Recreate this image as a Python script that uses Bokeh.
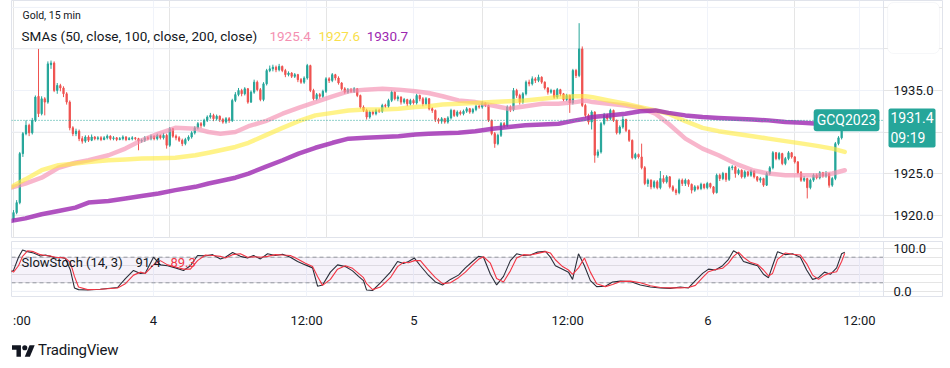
from bokeh.plotting import figure
from bokeh.models import (ColumnDataSource, Range1d, FixedTicker, Span, BoxAnnotation,
                          Label, Grid, Div)
from bokeh.core.properties import value
from bokeh.layouts import column
from bokeh.embed import file_html
from bokeh.resources import INLINE

# ---------------- data (15-min bars) ----------------
open_ = [
    1919.5, 1920.3, 1921.5, 1927.4, 1929.8, 1930.8, 1929.9, 1931.4, 1934.3, 1932.2,
    1934.0, 1933.6, 1938.1, 1938.3, 1935.0, 1935.6, 1935.3, 1934.6, 1933.6, 1930.5,
    1929.8, 1930.1, 1929.2, 1928.9, 1929.4, 1929.0, 1929.4, 1929.2, 1929.3, 1929.1,
    1929.3, 1929.5, 1929.2, 1929.3, 1929.1, 1929.2, 1929.4, 1929.1, 1929.2, 1929.3,
    1929.2, 1928.9, 1929.0, 1929.3, 1929.2, 1929.5, 1929.2, 1929.6, 1929.3, 1929.6,
    1928.4, 1930.4, 1929.5, 1929.3, 1929.0, 1928.6, 1929.1, 1929.4, 1929.9, 1930.5,
    1931.0, 1930.8, 1931.4, 1931.8, 1932.0, 1931.6, 1931.9, 1931.5, 1931.2, 1931.6,
    1931.4, 1933.8, 1934.5, 1935.0, 1934.6, 1935.2, 1933.6, 1934.8, 1936.0, 1935.1,
    1933.9, 1935.8, 1937.4, 1937.6, 1937.8, 1937.5, 1937.9, 1937.4, 1936.9, 1937.1,
    1936.7, 1936.9, 1936.3, 1936.0, 1936.5, 1938.0, 1935.0, 1934.0, 1934.5, 1934.3,
    1934.9, 1936.4, 1936.2, 1936.9, 1936.5, 1935.9, 1935.2, 1934.8, 1935.1, 1934.9,
    1935.2, 1934.4, 1933.0, 1932.6, 1931.8, 1932.4, 1932.2, 1932.6, 1932.5, 1933.2,
    1933.1, 1933.8, 1934.8, 1934.0, 1934.2, 1933.6, 1933.9, 1933.4, 1933.8, 1933.5,
    1934.4, 1934.0, 1933.4, 1934.0, 1932.8, 1932.6, 1931.5, 1931.3, 1931.6, 1931.2,
    1931.7, 1932.6, 1932.0, 1932.4, 1932.2, 1932.5, 1932.8, 1932.4, 1932.7, 1933.1,
    1933.0, 1933.5, 1933.2, 1931.4, 1929.8, 1928.6, 1929.6, 1931.0, 1930.8, 1933.0,
    1932.7, 1935.0, 1934.4, 1933.6, 1934.6, 1936.0, 1935.8, 1936.4, 1936.2, 1936.6,
    1936.0, 1935.3, 1934.8, 1935.0, 1934.2, 1935.1, 1934.6, 1933.9, 1934.4, 1933.5,
    1937.4, 1936.8, 1940.0, 1933.2, 1932.0, 1931.2, 1932.4, 1927.2, 1927.6, 1931.0,
    1932.0, 1931.6, 1932.6, 1931.4, 1929.9, 1930.6, 1931.5, 1930.2, 1929.0, 1926.9,
    1927.3, 1927.0, 1925.7, 1923.8, 1924.2, 1923.4, 1924.0, 1923.3, 1924.4, 1924.0,
    1924.6, 1923.4, 1923.0, 1922.7, 1924.2, 1923.8, 1924.2, 1923.7, 1923.0, 1923.4,
    1923.2, 1923.7, 1923.3, 1923.8, 1923.4, 1922.7, 1924.8, 1924.4, 1925.0, 1924.3,
    1925.7, 1925.8, 1925.0, 1925.4, 1924.6, 1925.2, 1924.8, 1925.3, 1924.6, 1924.2,
    1924.4, 1923.6, 1925.0, 1925.7, 1927.5, 1926.8, 1927.4, 1926.2, 1926.8, 1927.5,
    1927.0, 1926.4, 1925.1, 1924.2, 1924.4, 1923.3, 1924.2, 1924.8, 1924.5, 1925.1,
    1924.7, 1925.0, 1923.6, 1924.4, 1928.6, 1929.3, 1930.4,
]
high = [
    1920.6, 1921.8, 1927.6, 1930.0, 1931.4, 1931.0, 1931.7, 1934.4, 1940.0, 1934.3,
    1934.2, 1938.5, 1938.6, 1938.5, 1935.9, 1935.8, 1935.5, 1934.8, 1933.8, 1930.7,
    1930.4, 1930.3, 1929.5, 1929.6, 1929.6, 1929.7, 1929.5, 1929.5, 1929.5, 1929.5,
    1929.7, 1929.6, 1929.5, 1929.4, 1929.4, 1929.6, 1929.5, 1929.4, 1929.5, 1929.4,
    1929.3, 1929.2, 1929.5, 1929.5, 1929.7, 1929.6, 1929.8, 1929.7, 1929.9, 1929.8,
    1930.6, 1930.5, 1929.7, 1929.5, 1929.2, 1929.3, 1929.6, 1930.1, 1930.7, 1931.2,
    1931.2, 1931.6, 1932.0, 1932.3, 1932.2, 1932.1, 1932.0, 1931.7, 1931.8, 1931.8,
    1934.0, 1934.8, 1935.3, 1935.2, 1935.4, 1935.3, 1935.0, 1936.3, 1936.2, 1935.3,
    1936.0, 1937.6, 1938.0, 1938.1, 1938.0, 1938.2, 1938.0, 1937.6, 1937.3, 1937.2,
    1937.1, 1937.0, 1936.5, 1936.7, 1938.2, 1938.1, 1935.2, 1934.7, 1934.7, 1935.1,
    1936.6, 1936.6, 1937.1, 1937.0, 1936.7, 1936.0, 1935.4, 1935.3, 1935.3, 1935.4,
    1935.3, 1934.5, 1933.2, 1932.8, 1932.6, 1932.6, 1932.8, 1932.8, 1933.4, 1933.4,
    1934.0, 1935.0, 1934.9, 1934.4, 1934.3, 1934.1, 1934.0, 1934.0, 1934.0, 1934.6,
    1934.5, 1934.2, 1934.2, 1934.1, 1933.0, 1932.7, 1931.7, 1931.8, 1931.7, 1931.9,
    1932.8, 1932.7, 1932.6, 1932.6, 1932.7, 1933.0, 1932.9, 1932.9, 1933.3, 1933.3,
    1933.7, 1933.6, 1933.3, 1931.5, 1930.0, 1929.8, 1931.2, 1931.2, 1933.2, 1933.2,
    1935.3, 1935.2, 1934.6, 1934.8, 1936.2, 1936.3, 1936.7, 1936.6, 1936.9, 1936.7,
    1936.1, 1935.4, 1935.2, 1935.1, 1935.3, 1935.2, 1934.7, 1934.6, 1934.5, 1937.6,
    1937.6, 1943.1, 1940.3, 1933.4, 1932.2, 1932.6, 1932.5, 1927.9, 1931.2, 1932.3,
    1932.2, 1932.8, 1932.7, 1931.5, 1930.8, 1931.9, 1931.6, 1930.3, 1929.1, 1927.5,
    1927.4, 1928.6, 1925.9, 1924.4, 1924.3, 1924.2, 1924.2, 1925.3, 1924.8, 1924.8,
    1924.7, 1923.6, 1923.2, 1924.4, 1924.4, 1924.4, 1924.3, 1923.8, 1923.6, 1923.6,
    1923.9, 1923.8, 1924.0, 1923.9, 1923.5, 1925.0, 1925.0, 1925.2, 1925.1, 1925.9,
    1926.0, 1925.9, 1925.6, 1925.5, 1925.4, 1925.3, 1925.5, 1925.4, 1924.7, 1924.6,
    1924.5, 1925.2, 1925.9, 1927.7, 1927.6, 1927.6, 1927.5, 1927.0, 1927.7, 1927.6,
    1927.1, 1926.5, 1925.3, 1924.7, 1924.5, 1924.4, 1925.0, 1925.0, 1925.3, 1925.2,
    1925.3, 1925.1, 1924.6, 1928.8, 1929.5, 1930.6, 1931.6,
]
low = [
    1919.2, 1920.1, 1921.3, 1927.0, 1929.6, 1929.5, 1929.7, 1931.2, 1931.8, 1932.0,
    1932.0, 1933.4, 1937.6, 1934.8, 1934.6, 1934.9, 1934.2, 1933.3, 1930.2, 1929.5,
    1929.5, 1928.9, 1928.6, 1928.7, 1928.8, 1928.9, 1929.0, 1929.0, 1928.9, 1929.0,
    1929.1, 1929.0, 1929.0, 1928.9, 1929.0, 1929.0, 1928.9, 1929.0, 1929.0, 1929.0,
    1927.8, 1928.7, 1928.8, 1929.0, 1929.0, 1929.0, 1929.0, 1929.1, 1929.1, 1928.0,
    1928.2, 1929.3, 1929.0, 1928.8, 1928.3, 1928.4, 1928.9, 1929.2, 1929.7, 1930.3,
    1930.5, 1930.6, 1931.2, 1931.6, 1931.3, 1931.4, 1931.2, 1931.0, 1931.0, 1931.1,
    1931.2, 1933.6, 1934.3, 1934.3, 1934.4, 1933.4, 1933.5, 1934.6, 1934.9, 1933.7,
    1933.7, 1935.6, 1937.2, 1937.3, 1937.2, 1937.3, 1937.2, 1936.6, 1936.7, 1936.5,
    1936.5, 1936.0, 1935.8, 1935.8, 1936.3, 1934.8, 1933.8, 1933.8, 1934.0, 1934.1,
    1934.7, 1935.9, 1936.0, 1936.2, 1935.7, 1935.0, 1934.6, 1934.6, 1934.7, 1934.7,
    1934.2, 1932.8, 1932.4, 1931.5, 1931.6, 1932.0, 1932.0, 1932.3, 1932.3, 1932.9,
    1932.9, 1933.6, 1933.8, 1933.7, 1933.3, 1933.4, 1933.1, 1933.2, 1933.3, 1933.3,
    1933.7, 1933.1, 1933.2, 1932.6, 1932.3, 1931.2, 1931.0, 1931.0, 1931.0, 1931.0,
    1931.5, 1931.8, 1931.8, 1932.0, 1932.0, 1932.3, 1932.2, 1932.2, 1932.5, 1932.8,
    1932.8, 1933.0, 1931.2, 1929.6, 1928.1, 1928.4, 1929.4, 1930.5, 1930.6, 1932.4,
    1932.5, 1934.1, 1933.3, 1933.4, 1934.4, 1935.5, 1935.6, 1935.9, 1936.0, 1935.8,
    1935.1, 1934.5, 1934.6, 1934.0, 1934.0, 1934.3, 1933.7, 1933.7, 1932.3, 1933.3,
    1936.5, 1936.6, 1933.0, 1931.7, 1930.9, 1930.3, 1926.3, 1926.9, 1927.4, 1930.8,
    1931.3, 1931.4, 1931.2, 1929.7, 1929.7, 1930.4, 1930.0, 1928.8, 1926.7, 1926.7,
    1926.8, 1925.5, 1923.6, 1923.4, 1923.1, 1923.2, 1923.1, 1923.1, 1923.8, 1923.8,
    1923.2, 1922.8, 1922.4, 1922.5, 1923.5, 1923.5, 1923.4, 1922.6, 1922.8, 1923.0,
    1923.0, 1923.1, 1923.1, 1923.2, 1922.5, 1922.6, 1924.1, 1924.2, 1924.0, 1924.1,
    1925.4, 1924.5, 1924.8, 1924.4, 1924.4, 1924.6, 1924.6, 1924.4, 1924.0, 1923.9,
    1923.4, 1923.5, 1924.8, 1925.5, 1926.6, 1926.6, 1926.0, 1926.0, 1926.6, 1926.8,
    1926.2, 1924.9, 1924.0, 1924.0, 1922.0, 1923.1, 1924.0, 1924.3, 1924.3, 1924.5,
    1924.5, 1923.3, 1923.4, 1924.2, 1928.4, 1929.1, 1930.2,
]
close = [
    1920.3, 1921.5, 1927.4, 1929.8, 1930.8, 1929.9, 1931.4, 1934.2, 1932.2, 1934.0,
    1933.6, 1938.2, 1938.3, 1935.0, 1935.6, 1935.3, 1934.6, 1933.6, 1930.5, 1929.8,
    1930.1, 1929.2, 1928.9, 1929.4, 1929.0, 1929.4, 1929.2, 1929.3, 1929.1, 1929.3,
    1929.5, 1929.2, 1929.3, 1929.1, 1929.2, 1929.4, 1929.1, 1929.2, 1929.3, 1929.2,
    1928.9, 1929.0, 1929.3, 1929.2, 1929.5, 1929.2, 1929.6, 1929.3, 1929.6, 1928.4,
    1930.4, 1929.5, 1929.3, 1929.0, 1928.6, 1929.1, 1929.4, 1929.9, 1930.5, 1931.0,
    1930.8, 1931.4, 1931.8, 1932.0, 1931.6, 1931.9, 1931.5, 1931.2, 1931.6, 1931.4,
    1933.8, 1934.5, 1935.0, 1934.6, 1935.2, 1933.6, 1934.8, 1936.0, 1935.1, 1933.9,
    1935.8, 1937.4, 1937.6, 1937.8, 1937.5, 1937.9, 1937.4, 1936.9, 1937.1, 1936.7,
    1936.9, 1936.3, 1936.0, 1936.5, 1938.0, 1935.0, 1934.0, 1934.5, 1934.3, 1934.9,
    1936.4, 1936.2, 1936.9, 1936.5, 1935.9, 1935.2, 1934.8, 1935.1, 1934.9, 1935.2,
    1934.4, 1933.0, 1932.6, 1931.8, 1932.4, 1932.2, 1932.6, 1932.5, 1933.2, 1933.1,
    1933.8, 1934.8, 1934.0, 1934.2, 1933.6, 1933.9, 1933.4, 1933.8, 1933.5, 1934.4,
    1934.0, 1933.4, 1934.0, 1932.8, 1932.6, 1931.5, 1931.3, 1931.6, 1931.2, 1931.7,
    1932.6, 1932.0, 1932.4, 1932.2, 1932.5, 1932.8, 1932.4, 1932.7, 1933.1, 1933.0,
    1933.5, 1933.2, 1931.4, 1929.8, 1928.6, 1929.6, 1931.0, 1930.8, 1933.0, 1932.7,
    1935.0, 1934.4, 1933.6, 1934.6, 1936.0, 1935.8, 1936.4, 1936.2, 1936.6, 1936.0,
    1935.3, 1934.8, 1935.0, 1934.2, 1935.1, 1934.6, 1933.9, 1934.4, 1933.5, 1937.4,
    1936.8, 1940.0, 1933.2, 1932.0, 1931.2, 1932.4, 1927.2, 1927.6, 1931.0, 1932.0,
    1931.6, 1932.6, 1931.4, 1929.9, 1930.6, 1931.5, 1930.2, 1929.0, 1926.9, 1927.3,
    1927.0, 1925.7, 1923.8, 1924.2, 1923.4, 1924.0, 1923.3, 1924.4, 1924.0, 1924.6,
    1923.4, 1923.0, 1922.7, 1924.2, 1923.8, 1924.2, 1923.7, 1923.0, 1923.4, 1923.2,
    1923.7, 1923.3, 1923.8, 1923.4, 1922.7, 1924.8, 1924.4, 1925.0, 1924.3, 1925.7,
    1925.8, 1925.0, 1925.4, 1924.6, 1925.2, 1924.8, 1925.3, 1924.6, 1924.2, 1924.4,
    1923.6, 1925.0, 1925.7, 1927.5, 1926.8, 1927.4, 1926.2, 1926.8, 1927.5, 1927.0,
    1926.4, 1925.1, 1924.2, 1924.4, 1923.3, 1924.2, 1924.8, 1924.5, 1925.1, 1924.7,
    1925.0, 1923.6, 1924.4, 1928.6, 1929.3, 1930.4, 1931.4,
]

# moving averages, sampled along the bar axis
sma_x = [-0.7, 3.8, 9.0, 14.4, 19.8, 24.0, 30.4, 35.8, 41.0, 46.4,
         51.8, 58.2, 62.4, 66.2, 71.0, 75.2, 80.6, 86.1, 91.2, 96.6,
         102.1, 107.2, 112.6, 118.1, 123.2, 128.6, 132.8, 137.3, 142.4, 147.8,
         153.3, 158.4, 163.8, 169.3, 174.4, 179.8, 183.0, 185.3, 190.4, 195.8,
         200.6, 205.4, 209.6, 215.0, 220.5, 225.6, 231.0, 236.5, 241.6, 247.0,
         252.5, 257.6, 262.1, 266.0]
sma50 = [1923.3, 1923.8, 1924.5, 1925.7, 1926.3, 1926.6, 1927.2, 1928.0, 1929.0, 1929.8,
         1930.5, 1930.4, 1930.0, 1929.8, 1930.0, 1930.7, 1931.3, 1932.2, 1932.9, 1933.6,
         1934.3, 1934.9, 1935.1, 1935.2, 1935.1, 1934.9, 1934.7, 1934.3, 1933.8, 1933.6,
         1933.2, 1932.8, 1933.1, 1933.4, 1933.4, 1933.6, 1933.8, 1933.6, 1933.4, 1933.2,
         1932.9, 1932.2, 1931.0, 1929.2, 1928.0, 1927.2, 1926.2, 1925.4, 1925.0, 1924.8,
         1924.8, 1924.8, 1925.0, 1925.4]
sma100 = [1923.4, 1924.3, 1925.4, 1926.0, 1926.2, 1926.4, 1926.6, 1926.7, 1926.8, 1926.85,
          1926.9, 1927.2, 1927.5, 1927.8, 1928.2, 1928.7, 1929.6, 1930.5, 1931.3, 1932.0,
          1932.3, 1932.6, 1932.7, 1932.7, 1932.8, 1933.0, 1933.1, 1933.3, 1933.4, 1933.5,
          1933.6, 1933.7, 1933.8, 1934.0, 1934.2, 1934.3, 1934.3, 1934.2, 1933.8, 1933.4,
          1933.0, 1932.6, 1932.2, 1931.3, 1930.5, 1930.1, 1929.8, 1929.5, 1929.2, 1928.9,
          1928.6, 1928.3, 1928.0, 1927.6]
sma200 = [1919.3, 1919.6, 1920.1, 1920.5, 1920.9, 1921.5, 1921.7, 1922.0, 1922.3, 1922.6,
          1923.0, 1923.4, 1923.8, 1924.1, 1924.5, 1925.0, 1925.8, 1926.6, 1927.4, 1928.1,
          1928.7, 1929.2, 1929.3, 1929.4, 1929.5, 1929.7, 1929.8, 1929.85, 1929.9, 1930.1,
          1930.4, 1930.6, 1930.8, 1930.9, 1931.0, 1931.4, 1931.6, 1931.8, 1932.0, 1932.2,
          1932.5, 1932.6, 1932.3, 1932.0, 1931.8, 1931.7, 1931.6, 1931.5, 1931.4, 1931.2,
          1931.1, 1931.0, 1930.8, 1930.7]

# slow stochastic (14, 3)
stoch_x = [-1.0, 0.0, 1.6, 2.9, 4.5, 6.4, 8.6, 10.2, 11.8, 13.4,
           15.0, 16.6, 18.2, 19.5, 20.8, 23.7, 27.8, 33.3, 35.8, 38.4,
           40.6, 42.2, 44.8, 47.0, 49.3, 51.8, 54.4, 56.6, 58.9, 61.4,
           63.7, 66.2, 67.8, 70.1, 72.6, 74.9, 76.8, 79.0, 81.3, 83.8,
           86.1, 88.6, 90.9, 93.4, 95.7, 97.3, 98.9, 101.4, 103.7, 106.2,
           108.5, 110.4, 112.0, 113.0, 114.9, 117.4, 120.6, 122.9, 124.8, 126.4,
           128.3, 130.2, 132.5, 135.0, 137.3, 139.8, 142.4, 144.6, 146.9, 148.8,
           150.4, 152.6, 154.6, 156.8, 159.0, 161.0, 163.2, 165.4, 167.7, 170.2,
           171.8, 173.4, 175.7, 177.6, 178.9, 180.8, 182.7, 184.6, 186.6, 189.4,
           191.7, 194.2, 197.4, 200.6, 203.8, 207.0, 210.2, 213.4, 216.0, 218.2,
           220.5, 222.4, 224.6, 226.9, 228.8, 230.4, 232.0, 233.6, 235.8, 238.1,
           240.0, 241.6, 242.9, 244.5, 247.0, 249.3, 251.8, 253.8, 255.7, 257.6,
           259.5, 261.4, 263.4, 265.0, 266.0]
stoch_k = [45, 49, 80, 97, 93, 90, 83, 85, 82, 78,
           80, 77, 50, 8, 4, 3, 5, 9, 30, 49,
           42, 43, 80, 62, 60, 55, 49, 60, 84, 83,
           86, 76, 80, 91, 82, 78, 84, 76, 88, 84,
           87, 80, 70, 62, 55, 12, 15, 45, 62, 58,
           48, 35, 25, 3, 2, 20, 45, 70, 65, 70,
           78, 60, 40, 22, 15, 28, 38, 55, 70, 82,
           80, 40, 15, 35, 72, 88, 84, 85, 92, 94,
           80, 60, 52, 45, 28, 88, 60, 25, 11, 12,
           22, 24, 23, 15, 10, 8, 7, 10, 8, 25,
           42, 52, 50, 60, 75, 95, 88, 70, 65, 60,
           40, 32, 60, 93, 86, 88, 80, 50, 28, 32,
           45, 40, 55, 88, 91.4]
stoch_d = [50, 45, 60, 82, 95, 93, 86, 84, 83, 80,
           79, 78, 68, 35, 10, 4, 5, 8, 18, 38,
           45, 42, 62, 72, 62, 57, 52, 52, 72, 85,
           84, 82, 78, 86, 88, 80, 81, 80, 82, 86,
           85, 84, 76, 66, 58, 35, 14, 28, 52, 60,
           54, 42, 32, 18, 4, 10, 32, 58, 68, 67,
           72, 72, 52, 32, 18, 20, 32, 45, 62, 75,
           81, 66, 30, 22, 48, 78, 86, 85, 89, 93,
           90, 74, 58, 50, 40, 55, 78, 45, 18, 11,
           16, 23, 24, 20, 13, 9, 8, 8, 9, 14,
           32, 46, 51, 54, 66, 82, 92, 80, 68, 63,
           50, 36, 42, 75, 90, 87, 85, 65, 38, 28,
           38, 43, 46, 70, 89.3]

# time axis (bar positions) and their labels
tick_pos = [2.7, 44.8, 93.8, 128.1, 177.3, 222.2, 270.7]
tick_labels = [":00", "4", "12:00", "5", "12:00", "6", "12:00"]
grid_pos = [44.8, 93.8, 128.1, 177.3, 222.2, 270.7]
price_ticks = [1920, 1925, 1930, 1935, 1940, 1945]
stoch_ticks = [0, 100]

# ---------------- styling ----------------
UP, DOWN = "#26a69a", "#ef5350"
TXT = "#131722"
FONT = "Roboto"
GRID = "#f0f3fa"
BORDER = "#e0e3eb"
X0, XEND, X1 = -0.64, 278.4, 297.6       # data left edge, price-scale edge, right edge
LABEL_X = 281.6
X_RANGE = Range1d(X0, X1)

bars = list(range(len(close)))
colors = [UP if c >= o else DOWN for o, c in zip(open_, close)]
src = ColumnDataSource(dict(x=bars, o=open_, h=high, l=low, c=close, col=colors))

# ---------------- main price pane ----------------
main = figure(frame_width=932, frame_height=238, x_range=X_RANGE,
              y_range=Range1d(1917.18, 1945.83),
              x_axis_location=None, y_axis_location=None,
              toolbar_location=None, output_backend="svg",
              min_border_left=11, min_border_right=0,
              min_border_top=0, min_border_bottom=0,
              outline_line_color=BORDER)
main.add_layout(Grid(dimension=0, ticker=FixedTicker(ticks=grid_pos),
                     grid_line_color=GRID))
main.segment(x0=[X0] * len(price_ticks), x1=[XEND] * len(price_ticks),
             y0=price_ticks, y1=price_ticks, line_color=GRID, line_width=1)

main.segment(x0="x", y0="l", x1="x", y1="h", line_color="col", line_width=1, source=src)
main.vbar(x="x", width=0.4, top="o", bottom="c", fill_color="col", line_color="col",
          line_width=1, source=src)

main.line(sma_x, sma50, line_color="#f48fb1", line_alpha=0.65, line_width=4.5,
          line_cap="round", line_join="round")
main.line(sma_x, sma100, line_color="#ffeb3b", line_alpha=0.6, line_width=4.5,
          line_cap="round", line_join="round")
main.line(sma_x, sma200, line_color="#9c27b0", line_alpha=0.8, line_width=4.5,
          line_cap="round", line_join="round")

main.segment(x0=[X0], x1=[XEND], y0=[close[-1]], y1=[close[-1]], line_color=UP,
             line_dash="1 2", line_width=1)

# price scale
main.add_layout(Span(location=XEND, dimension="height", line_color=BORDER, line_width=1))
main.text(x=[LABEL_X] * len(price_ticks), y=price_ticks,
          text=[f"{v:.1f}" for v in price_ticks], text_font=value(FONT),
          text_font_size="13px", text_color=TXT, text_baseline="middle", text_align="left")
main.add_layout(BoxAnnotation(left=279.7, right=296.3, top=1945.59, bottom=1939.45,
                              fill_color="white", fill_alpha=1.0, line_color=BORDER,
                              line_width=1, border_radius=6))

main.add_layout(Label(x=2.88, y=1944.02, text="Gold, 15 min", text_font=FONT,
                      text_font_size="10.5px", text_color=TXT, text_baseline="middle"))
main.add_layout(Label(x=2.56, y=1941.5, text="SMAs (50, close, 100, close, 200, close)",
                      text_font=FONT, text_font_size="13.5px", text_color=TXT,
                      text_baseline="middle"))
for xx, txt, colr in [(81.9, "1925.4", "#f48fb1"), (97.6, "1927.6", "#f9e04b"),
                      (113.0, "1930.7", "#9c27b0")]:
    main.add_layout(Label(x=xx, y=1941.5, text=txt, text_font=FONT,
                          text_font_size="13.5px", text_color=colr,
                          text_baseline="middle"))

main.add_layout(Label(x=277.1, y=close[-1], text="GCQ2023", text_font=FONT,
                      text_font_size="14px", text_color="white", text_align="right",
                      text_baseline="middle", background_fill_color=UP, padding=3,
                      border_radius=3))
main.add_layout(Label(x=280.0, y=1930.48, text="1931.4\n09:19", text_font=FONT,
                      text_font_size="14px", text_color="white", text_align="left",
                      text_baseline="middle", background_fill_color=UP, padding=2,
                      border_radius=2))

# ---------------- stochastic pane ----------------
stoch = figure(frame_width=932, frame_height=55, x_range=X_RANGE,
               y_range=Range1d(-12.1, 116.8),
               x_axis_location="below", y_axis_location=None,
               toolbar_location=None, output_backend="svg",
               min_border_left=11, min_border_right=0,
               min_border_top=3, min_border_bottom=31,
               outline_line_color=BORDER)
stoch.xgrid.grid_line_color = None
stoch.add_layout(Grid(dimension=0, ticker=FixedTicker(ticks=grid_pos),
                      grid_line_color=GRID))
xa = stoch.xaxis[0]
xa.ticker = FixedTicker(ticks=tick_pos)
xa.major_label_overrides = dict(zip(tick_pos, tick_labels))
xa.axis_line_color = None
xa.major_tick_line_color = None
xa.minor_tick_line_color = None
xa.major_label_standoff = 10
xa.major_label_text_font = FONT
xa.major_label_text_font_size = "13px"
xa.major_label_text_color = TXT

stoch.segment(x0=[X0, X0], x1=[XEND, XEND], y0=stoch_ticks, y1=stoch_ticks,
              line_color=GRID, line_width=1)
stoch.add_layout(BoxAnnotation(right=XEND, bottom=20, top=80, fill_color="#7e57c2",
                               fill_alpha=0.08, line_color=None, level="underlay"))
stoch.segment(x0=[X0, X0], x1=[XEND, XEND], y0=[80, 20], y1=[80, 20],
              line_color="#9598a1", line_dash="4 3", line_width=1)
stoch.line(stoch_x, stoch_k, line_color="#2a2e39", line_width=1.1)
stoch.line(stoch_x, stoch_d, line_color="#f23645", line_width=1.1)

stoch.add_layout(Span(location=XEND, dimension="height", line_color=BORDER, line_width=1))
stoch.text(x=[LABEL_X, LABEL_X], y=stoch_ticks, text=[f"{v:.1f}" for v in stoch_ticks],
           text_font=value(FONT), text_font_size="13px", text_color=TXT,
           text_baseline="middle", text_align="left")

stoch.add_layout(Label(x=2.56, y=67.6, text="SlowStoch (14, 3)", text_font=FONT,
                       text_font_size="13px", text_color=TXT, text_baseline="middle"))
stoch.add_layout(Label(x=39.0, y=67.6, text=str(stoch_k[-1]), text_font=FONT,
                       text_font_size="13px", text_color=TXT, text_baseline="middle"))
stoch.add_layout(Label(x=50.2, y=67.6, text=str(stoch_d[-1]), text_font=FONT,
                       text_font_size="13px", text_color="#f23645", text_baseline="middle"))

# ---------------- logo ----------------
logo_html = (
    '<div style="position:relative;width:200px;height:29px;">'
    '<svg style="position:absolute;left:12px;top:15px" width="23" height="12" '
    'viewBox="0 4 36 18">'
    '<path d="M14 22H7V11H0V4h14v18z" fill="#131722"/>'
    '<circle cx="20" cy="8" r="4" fill="#131722"/>'
    '<path d="M28 22h-8l7.5-18h8z" fill="#131722"/>'
    '</svg>'
    '<span style="position:absolute;left:38px;top:12px;font-family:Roboto;'
    'font-size:15px;line-height:17px;color:#131722;letter-spacing:-0.2px;">'
    'TradingView</span></div>'
)
logo = Div(text=logo_html, width=200, height=29, margin=0)

layout = column(main, stoch, logo, spacing=0)
open("out.html", "w").write(file_html(layout, INLINE))
